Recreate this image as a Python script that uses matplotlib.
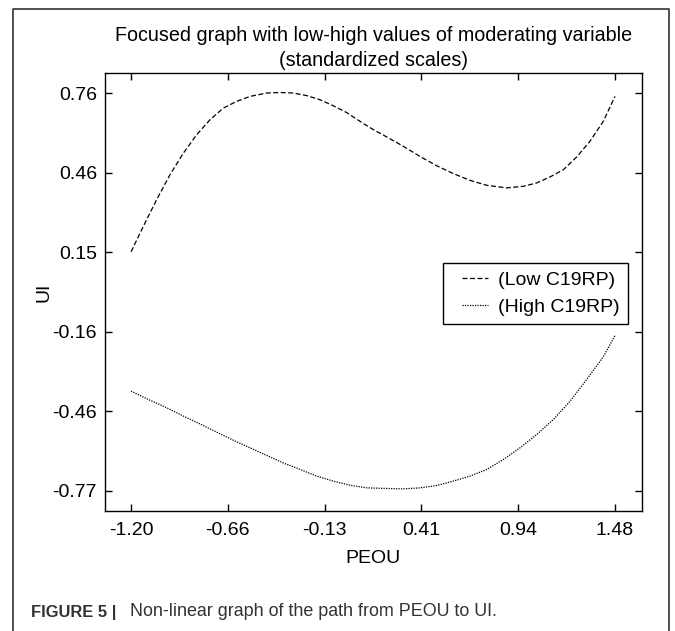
import matplotlib
matplotlib.use("Agg")
import matplotlib.pyplot as plt
from matplotlib.lines import Line2D
from matplotlib.legend_handler import HandlerLine2D

plt.rcParams['font.family'] = ['Liberation Sans', 'DejaVu Sans']

# values
x_low = [-1.20, -1.132, -1.058, -0.984, -0.910, -0.836, -0.763, -0.689, -0.615, -0.541, -0.449,
         -0.375, -0.301, -0.227, -0.153, -0.080, -0.006, 0.068, 0.142, 0.216, 0.308, 0.400,
         0.493, 0.585, 0.677, 0.770, 0.880, 0.972, 1.046, 1.120, 1.194, 1.268, 1.341, 1.415, 1.48]
y_low = [0.152, 0.250, 0.353, 0.449, 0.532, 0.603, 0.660, 0.705, 0.731, 0.750, 0.763,
         0.765, 0.763, 0.753, 0.737, 0.714, 0.688, 0.654, 0.622, 0.594, 0.558, 0.519,
         0.483, 0.453, 0.427, 0.408, 0.398, 0.404, 0.417, 0.440, 0.468, 0.517, 0.577, 0.654, 0.750]
x_high = [-1.20, -1.095, -1.002, -0.910, -0.818, -0.725, -0.633, -0.541, -0.449, -0.357, -0.264,
          -0.172, -0.080, 0.013, 0.105, 0.197, 0.308, 0.400, 0.493, 0.585, 0.677, 0.770,
          0.862, 0.954, 1.046, 1.139, 1.231, 1.323, 1.415, 1.48]
y_high = [-0.384, -0.419, -0.448, -0.480, -0.510, -0.542, -0.573, -0.602, -0.631, -0.660, -0.685,
          -0.711, -0.730, -0.746, -0.756, -0.758, -0.760, -0.756, -0.747, -0.730, -0.711, -0.685,
          -0.647, -0.602, -0.551, -0.493, -0.423, -0.339, -0.252, -0.170]
xticks = [-1.20, -0.664, -0.128, 0.408, 0.944, 1.48]
xlabels = ["-1.20", "-0.66", "-0.13", "0.41", "0.94", "1.48"]
yticks = [-0.768, -0.4618, -0.1556, 0.1506, 0.4568, 0.763]
ylabels = ["-0.77", "-0.46", "-0.16", "0.15", "0.46", "0.76"]
names = ["(Low C19RP)", "(High C19RP)"]

fig = plt.figure(figsize=(6.75, 6.31), dpi=100)
ax = fig.add_axes([0.1556, 0.1902, 0.7951, 0.6941])

ax.plot(x_low, y_low, color='black', lw=0.9, linestyle=(0, (4, 2)), label=names[0])
ax.plot(x_high, y_high, color='black', lw=0.9, linestyle=(0, (1, 1)), label=names[1])

ax.set_xlim(-1.344, 1.628)
ax.set_ylim(-0.845, 0.84)
ax.set_xticks(xticks)
ax.set_xticklabels(xlabels)
ax.set_yticks(yticks)
ax.set_yticklabels(ylabels)
ax.tick_params(direction='in', length=5, width=1, top=True, right=True, labelsize=14)
ax.tick_params(axis='x', pad=8)
ax.tick_params(axis='y', pad=5.8)
for s in ax.spines.values():
    s.set_linewidth(1)

ax.set_xlabel("PEOU", fontsize=14, labelpad=8)
ax.set_ylabel("UI", fontsize=14, labelpad=0)
ax.set_title("Focused graph with low-high values of moderating variable\n(standardized scales)",
             fontsize=14.2, pad=5, linespacing=1.42)

# line drawn in the right part of the handle box, like the reference legend
hm = HandlerLine2D(xpad=0.57)
leg = ax.legend(loc='upper right', bbox_to_anchor=(0.974, 0.566), borderaxespad=0,
                fontsize=14, handlelength=1.9, handletextpad=0.51, fancybox=False,
                framealpha=1, edgecolor='black', borderpad=0.42, labelspacing=0.5,
                handler_map={Line2D: hm})
leg.get_frame().set_linewidth(1)

# outer frame of the figure panel (open at the bottom)
fig.add_artist(Line2D([13/675, 13/675, 669/675, 669/675], [0, 1 - 9/631, 1 - 9/631, 0],
                      transform=fig.transFigure, color='#333333', lw=1.2))

t1 = fig.text(31/675, 1 - 612/631, "FIGURE 5 |", fontsize=11.9, fontweight='bold',
              color='#333333', va='center', ha='left')
ax.annotate("Non-linear graph of the path from PEOU to UI.", xy=(1, 0.5), xycoords=t1,
            xytext=(10, 0), textcoords='offset points',
            va='center', ha='left', fontsize=12.9, color='#333333', annotation_clip=False)

fig.savefig("out.png", dpi=100)
